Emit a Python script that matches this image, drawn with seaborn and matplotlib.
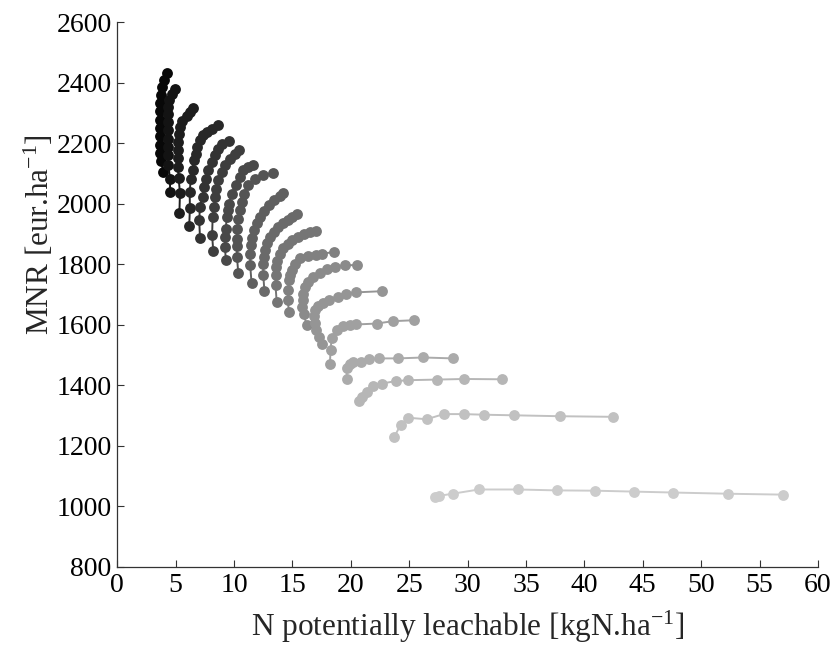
import seaborn as sns
import matplotlib.pyplot as plt
import pandas as pd

# one curve per scenario, points ordered from the lowest point to the right end
c01_x = [3.95, 3.75, 3.70, 3.68, 3.67, 3.67, 3.67, 3.67, 3.68, 3.72, 3.82, 3.98, 4.25]
c01_y = [2104, 2140, 2168, 2195, 2222, 2250, 2277, 2305, 2332, 2358, 2385, 2410, 2433]
c02_x = [4.52, 4.52, 4.37, 4.34, 4.33, 4.32, 4.32, 4.32, 4.33, 4.36, 4.45, 4.66, 4.95]
c02_y = [2038, 2083, 2127, 2160, 2187, 2215, 2242, 2270, 2297, 2320, 2341, 2363, 2380]
c03_x = [5.32, 5.37, 5.25, 5.20, 5.17, 5.17, 5.20, 5.25, 5.35, 5.58, 5.95, 6.20, 6.50]
c03_y = [1969, 2036, 2085, 2120, 2150, 2178, 2205, 2230, 2253, 2272, 2290, 2304, 2315]
c04_x = [6.16, 6.22, 6.20, 6.30, 6.45, 6.55, 6.70, 6.85, 7.08, 7.36, 7.65, 8.08, 8.65]
c04_y = [1925, 1985, 2040, 2080, 2112, 2143, 2165, 2187, 2209, 2226, 2237, 2248, 2259]
c05_x = [7.08, 7.02, 7.08, 7.30, 7.40, 7.60, 7.79, 8.08, 8.36, 8.65, 8.94, 9.56]
c05_y = [1888, 1945, 1989, 2022, 2055, 2083, 2110, 2138, 2160, 2182, 2198, 2206]
c06_x = [8.22, 8.12, 8.17, 8.28, 8.36, 8.45, 8.65, 8.94, 9.22, 9.65, 10.08, 10.45]
c06_y = [1844, 1896, 1956, 1989, 2022, 2050, 2077, 2105, 2127, 2149, 2165, 2178]
c07_x = [9.30, 9.22, 9.25, 9.30, 9.37, 9.45, 9.60, 9.80, 10.16, 10.50, 10.79, 11.20, 11.65]
c07_y = [1813, 1857, 1890, 1918, 1956, 1980, 2000, 2033, 2061, 2088, 2110, 2120, 2127]
c08_x = [10.36, 10.25, 10.22, 10.22, 10.25, 10.36, 10.50, 10.65, 10.85, 11.22, 11.79, 12.50, 13.36]
c08_y = [1771, 1825, 1860, 1885, 1918, 1950, 1978, 2006, 2033, 2061, 2080, 2094, 2101]
c09_x = [11.50, 11.38, 11.40, 11.45, 11.55, 11.70, 11.93, 12.22, 12.55, 12.95, 13.40, 13.90, 14.21]
c09_y = [1738, 1797, 1835, 1862, 1888, 1912, 1935, 1957, 1977, 1995, 2011, 2026, 2035]
c10_x = [12.60, 12.50, 12.50, 12.55, 12.65, 12.80, 13.05, 13.40, 13.80, 14.20, 14.60, 15.00, 15.41]
c10_y = [1712, 1765, 1800, 1825, 1848, 1870, 1890, 1907, 1922, 1935, 1946, 1956, 1965]
c11_x = [13.65, 13.55, 13.55, 13.60, 13.70, 13.90, 14.20, 14.60, 15.00, 15.50, 16.00, 16.50, 17.05]
c11_y = [1676, 1730, 1765, 1790, 1812, 1833, 1852, 1867, 1880, 1891, 1899, 1905, 1910]
c12_x = [14.70, 14.60, 14.62, 14.70, 14.80, 14.93, 15.20, 15.64, 16.35, 17.00, 17.50, 18.55]
c12_y = [1643, 1681, 1714, 1747, 1765, 1780, 1802, 1819, 1826, 1832, 1835, 1840]
c13_x = [16.22, 15.95, 15.85, 15.87, 15.93, 16.07, 16.35, 16.78, 17.35, 17.93, 18.64, 19.50, 20.55]
c13_y = [1599, 1637, 1660, 1681, 1703, 1725, 1742, 1758, 1771, 1783, 1791, 1797, 1797]
c14_x = [17.55, 17.30, 17.05, 16.90, 16.85, 16.95, 17.20, 17.60, 18.15, 18.90, 19.60, 20.40, 22.70]
c14_y = [1538, 1560, 1582, 1605, 1628, 1648, 1662, 1672, 1682, 1693, 1701, 1707, 1711]
c15_x = [18.20, 18.27, 18.35, 18.80, 19.30, 19.90, 20.40, 22.20, 23.60, 25.40]
c15_y = [1469, 1516, 1558, 1582, 1595, 1599, 1601, 1604, 1612, 1615]
c16_x = [19.64, 19.64, 19.92, 20.21, 20.84, 21.58, 22.43, 24.06, 26.20, 28.72]
c16_y = [1420, 1456, 1472, 1478, 1478, 1486, 1489, 1489, 1492, 1489]
c17_x = [20.72, 20.92, 21.35, 21.92, 22.64, 23.86, 24.91, 27.35, 29.68, 32.96]
c17_y = [1348, 1362, 1379, 1397, 1406, 1414, 1417, 1419, 1421, 1420]
c18_x = [23.72, 24.26, 24.91, 26.49, 27.95, 29.66, 31.37, 33.99, 37.88, 42.42]
c18_y = [1230, 1269, 1293, 1288, 1305, 1305, 1303, 1301, 1298, 1296]
c19_x = [27.20, 27.57, 28.71, 30.96, 34.32, 37.66, 40.92, 44.24, 47.55, 52.26, 57.03]
c19_y = [1032, 1035, 1042, 1056, 1056, 1053, 1052, 1049, 1046, 1042, 1039]

curves = [
    (c01_x, c01_y), (c02_x, c02_y), (c03_x, c03_y), (c04_x, c04_y), (c05_x, c05_y),
    (c06_x, c06_y), (c07_x, c07_y), (c08_x, c08_y), (c09_x, c09_y), (c10_x, c10_y),
    (c11_x, c11_y), (c12_x, c12_y), (c13_x, c13_y), (c14_x, c14_y), (c15_x, c15_y),
    (c16_x, c16_y), (c17_x, c17_y), (c18_x, c18_y), (c19_x, c19_y),
]

rows = []
for i, (xs, ys) in enumerate(curves):
    for j, (xv, yv) in enumerate(zip(xs, ys)):
        rows.append({'curve': i, 'order': j, 'nleach': xv, 'mnr': yv})
df = pd.DataFrame(rows)

n = len(curves)
greys = [str(0.03 + 0.77 * i / (n - 1)) for i in range(n)]

sns.set_style('ticks')
plt.rcParams['font.family'] = ['Liberation Serif', 'DejaVu Serif']
plt.rcParams['mathtext.fontset'] = 'custom'
plt.rcParams['mathtext.rm'] = 'Liberation Serif'
plt.rcParams['mathtext.it'] = 'Liberation Serif'

fig = plt.figure(figsize=(8.34, 6.46), dpi=100)
ax = fig.add_axes([0.1406, 0.1223, 0.8402, 0.8436])

sns.lineplot(
    data=df, x='nleach', y='mnr', hue='curve', palette=greys,
    sort=False, estimator=None, units='curve', marker='o',
    markersize=7.8, markeredgewidth=0, linewidth=1.4,
    legend=False, ax=ax,
)

ax.set_xlim(0, 60)
ax.set_ylim(800, 2600)
ax.set_xticks(range(0, 61, 5))
ax.set_yticks(range(800, 2601, 200))
ax.tick_params(direction='in', length=5, width=0.8, labelsize=20, pad=4, colors='#333333', labelcolor='black')
for s in ['top', 'right']:
    ax.spines[s].set_visible(False)
for s in ['left', 'bottom']:
    ax.spines[s].set_color('#333333')
    ax.spines[s].set_linewidth(0.9)

ax.set_xlabel('N potentially leachable [kgN.ha$^{-1}$]', fontsize=22.5, labelpad=8)
ax.set_ylabel('MNR [eur.ha$^{-1}$]', fontsize=22.5)
ax.yaxis.set_label_coords(-0.088, 0.61)

fig.savefig('out.png', dpi=100)
